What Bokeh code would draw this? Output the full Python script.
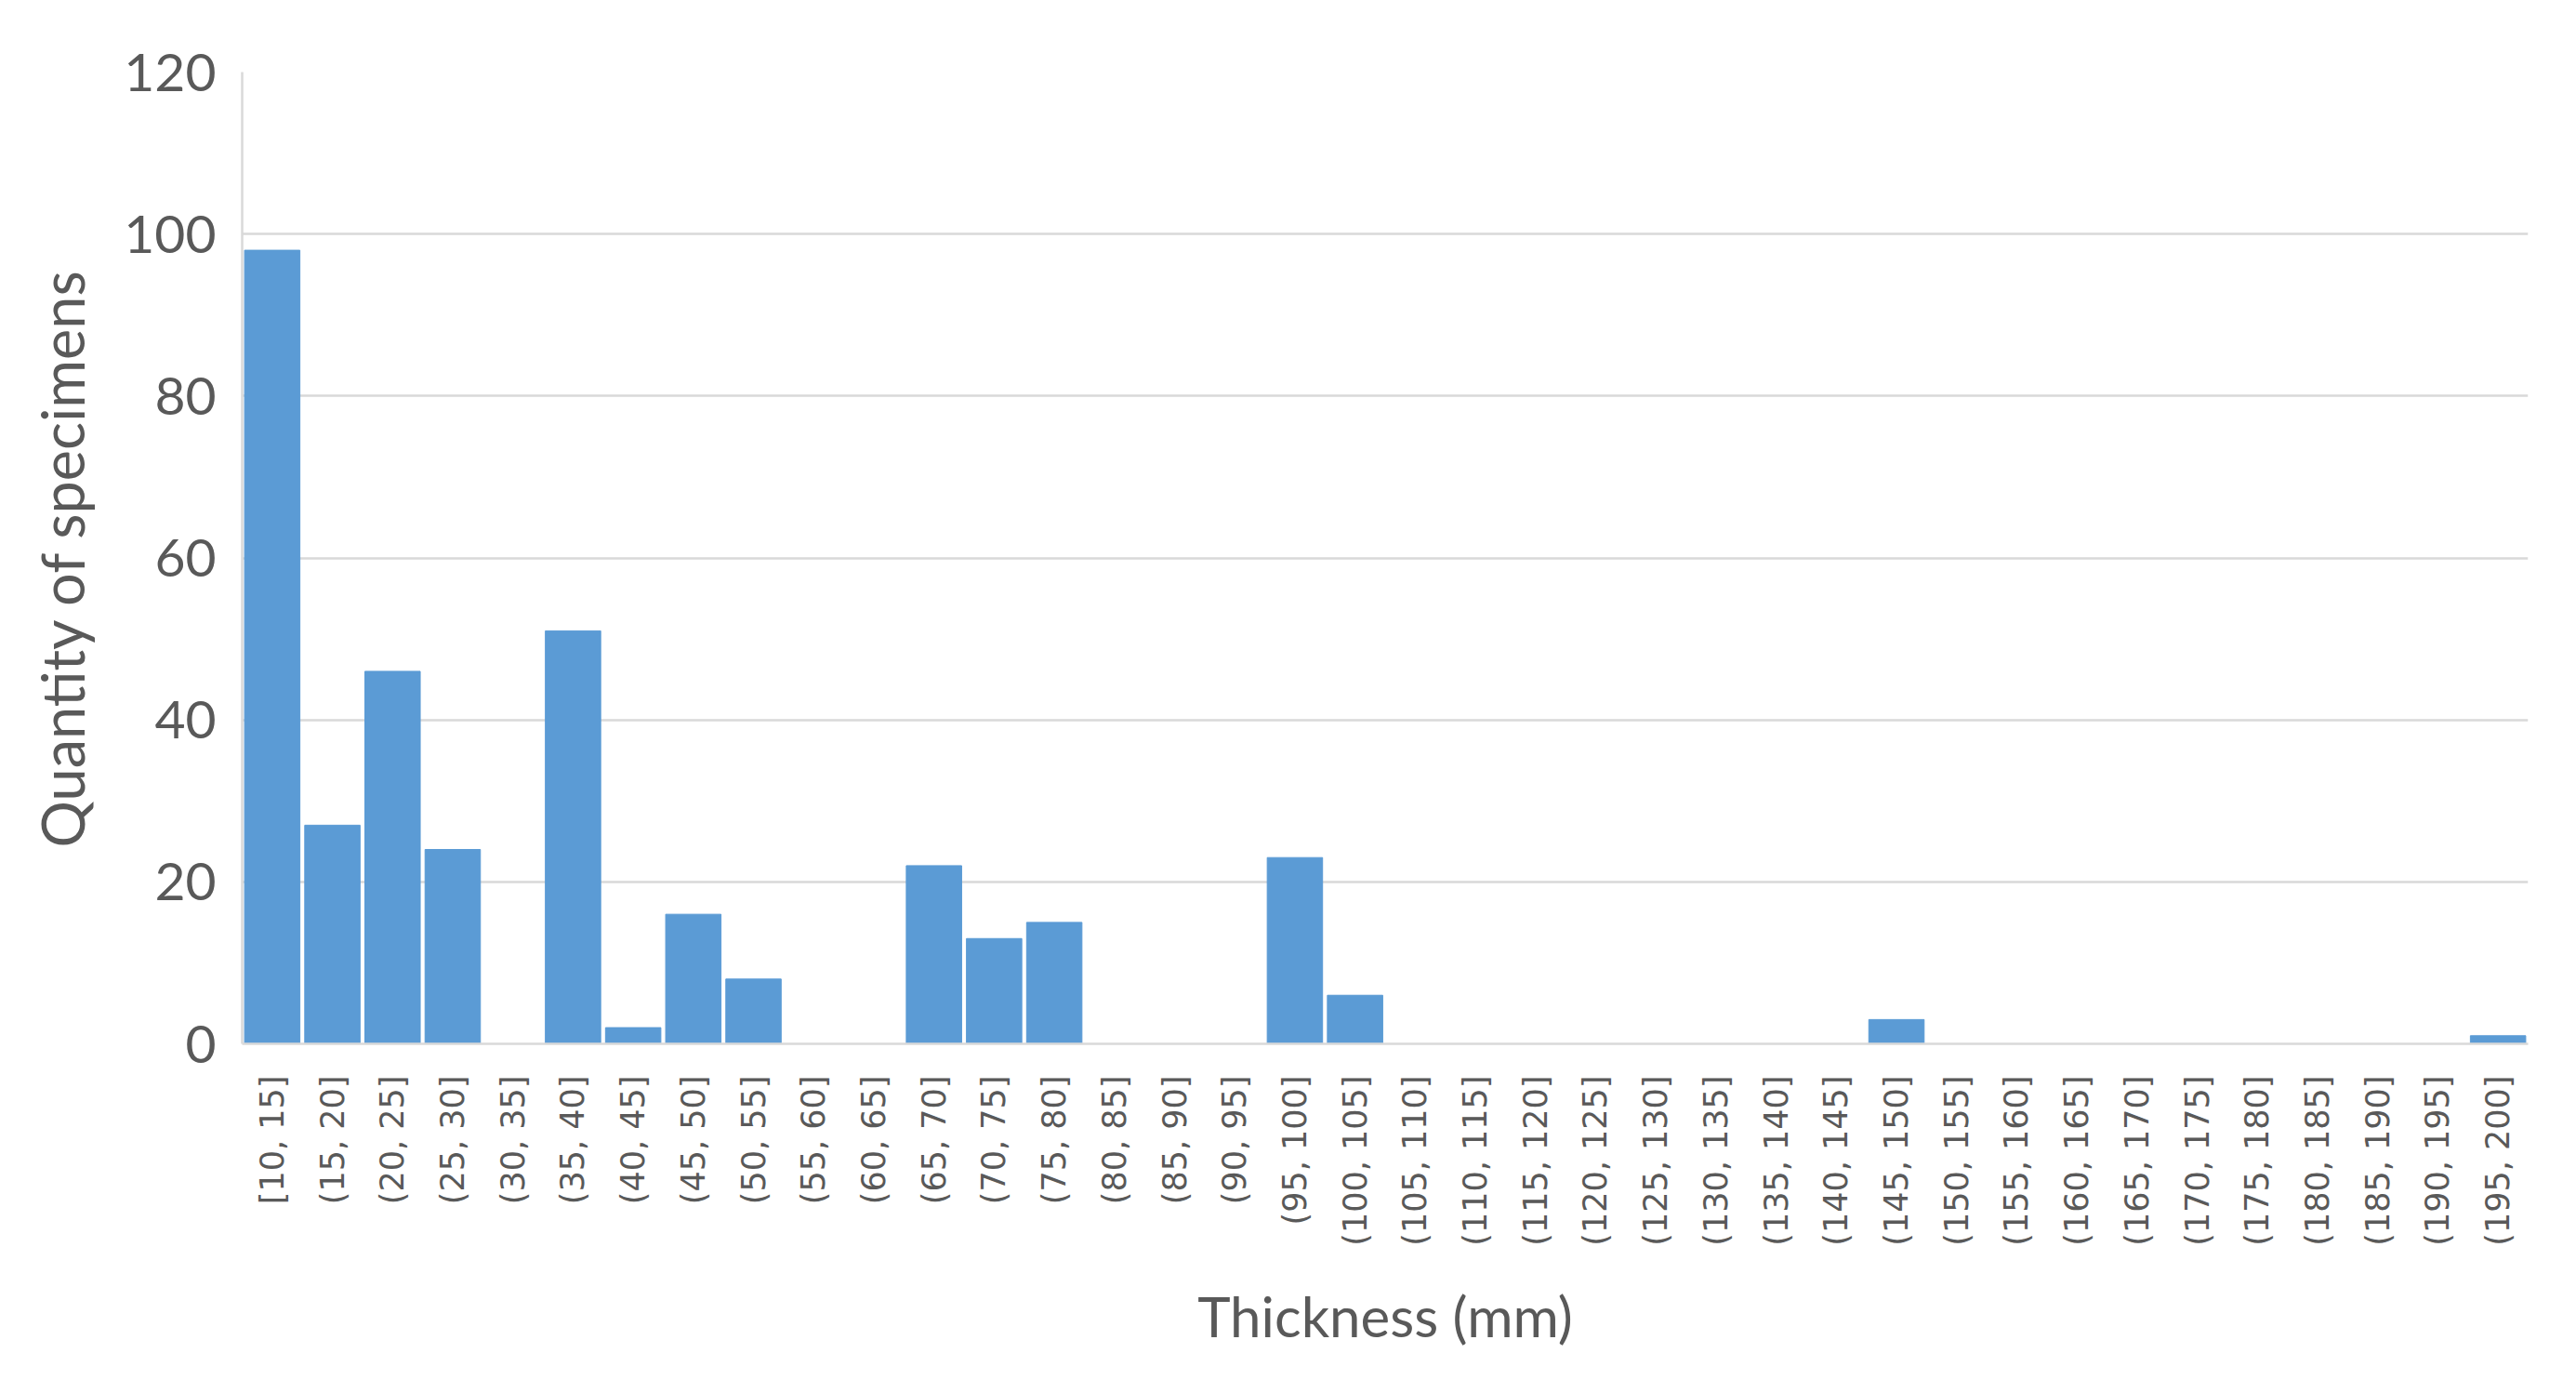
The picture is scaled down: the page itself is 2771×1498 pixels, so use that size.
import math

from bokeh.embed import file_html
from bokeh.models import ColumnDataSource, Range1d
from bokeh.plotting import figure
from bokeh.resources import INLINE

# thickness bins (mm) and number of specimens per bin
bins = [
    "[10, 15]", "(15, 20]", "(20, 25]", "(25, 30]", "(30, 35]", "(35, 40]",
    "(40, 45]", "(45, 50]", "(50, 55]", "(55, 60]", "(60, 65]", "(65, 70]",
    "(70, 75]", "(75, 80]", "(80, 85]", "(85, 90]", "(90, 95]", "(95, 100]",
    "(100, 105]", "(105, 110]", "(110, 115]", "(115, 120]", "(120, 125]",
    "(125, 130]", "(130, 135]", "(135, 140]", "(140, 145]", "(145, 150]",
    "(150, 155]", "(155, 160]", "(160, 165]", "(165, 170]", "(170, 175]",
    "(175, 180]", "(180, 185]", "(185, 190]", "(190, 195]", "(195, 200]",
]
counts = [
    98, 27, 46, 24, 0, 51,
    2, 16, 8, 0, 0, 22,
    13, 15, 0, 0, 0, 23,
    6, 0, 0, 0, 0,
    0, 0, 0, 0, 3,
    0, 0, 0, 0, 0,
    0, 0, 0, 0, 1,
]
y_ticks = [0, 20, 40, 60, 80, 100, 120]

BAR = "#5B9BD5"
TEXT = "#595959"
GRID = "#D9D9D9"
FONT = "Lato"

source = ColumnDataSource(data=dict(bins=bins, counts=counts))

p = figure(x_range=bins, y_range=Range1d(0, 120),
           width=2755, height=1482,
           output_backend="svg", toolbar_location=None,
           min_border_left=260, min_border_right=36,
           min_border_top=77, min_border_bottom=360)
p.outline_line_color = None

p.vbar(x="bins", top="counts", width=0.92, source=source,
       fill_color=BAR, line_color=BAR, line_width=1)

p.xgrid.grid_line_color = None
p.ygrid.grid_line_color = GRID
p.ygrid.grid_line_width = 2.5
p.yaxis.ticker = y_ticks

p.yaxis.axis_label = "Quantity of specimens"
p.xaxis.axis_label = "Thickness (mm)"

for ax in (p.xaxis, p.yaxis):
    ax.axis_line_color = GRID
    ax.axis_line_width = 2.5
    ax.major_tick_line_color = None
    ax.minor_tick_line_color = None
    ax.axis_label_text_font = FONT
    ax.axis_label_text_font_style = "normal"
    ax.axis_label_text_color = TEXT
    ax.major_label_text_color = TEXT

p.xaxis.axis_label_text_font_size = "60px"
p.yaxis.axis_label_text_font_size = "63px"

p.yaxis.major_label_text_font = FONT
p.yaxis.major_label_text_font_size = "57px"
p.yaxis.major_label_standoff = 22
p.yaxis.axis_label_standoff = 26

p.xaxis.major_label_text_font = "DejaVu Sans"
p.xaxis.major_label_text_font_size = "35px"
p.xaxis.major_label_orientation = math.pi / 2
p.xaxis.major_label_standoff = 28
p.xaxis.axis_label_standoff = 36

open("out.html", "w").write(file_html(p, INLINE))
